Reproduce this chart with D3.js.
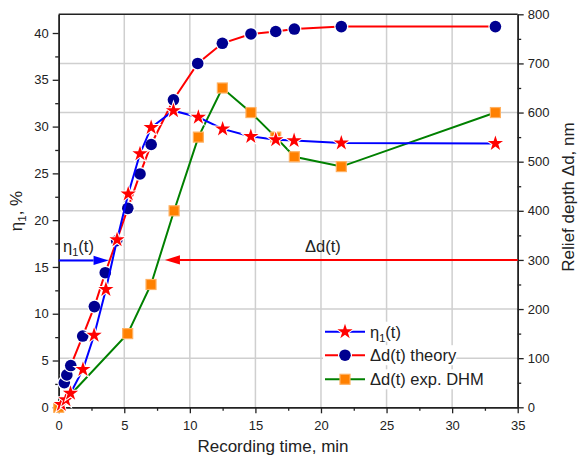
<!DOCTYPE html>
<html>
<head>
<meta charset="utf-8">
<script src="https://cdn.jsdelivr.net/npm/d3@7"></script>
<style>
body { margin: 0; background: #fff; }
text { font-family: "Liberation Sans", Arial, sans-serif; fill: #222; }
</style>
</head>
<body>
<svg id="chart" width="578" height="458"></svg>
<script>
// η1(t), left axis (%)
const etaT   = [0.2, 0.55, 0.9, 1.85, 2.7, 3.6, 4.45, 5.3, 6.2, 7.05, 8.75, 10.65, 12.5, 14.65, 16.55, 17.95, 21.55, 33.3];
const etaVal = [0.3, 0.8, 1.5, 4.05, 7.7, 12.6, 17.9, 22.8, 27.1, 29.9, 31.7, 31.0, 29.75, 28.95, 28.6, 28.5, 28.25, 28.2];

// Δd(t) theory, right axis (nm)
const theoryT   = [0.43, 0.62, 0.92, 1.83, 2.72, 3.55, 4.42, 5.27, 6.2, 7.05, 8.75, 10.6, 12.48, 14.66, 16.55, 17.97, 21.55, 33.3];
const theoryVal = [50, 66, 85, 145, 205, 274, 339, 405, 475, 535, 626, 700, 741, 760, 765, 770, 775, 775];

// Δd(t) exp. DHM, right axis (nm)
const dhmT   = [0, 5.26, 7.04, 8.8, 10.65, 12.48, 14.66, 16.55, 17.97, 21.55, 33.3];
const dhmVal = [0, 150, 250, 400, 550, 650, 600, 550, 510, 490, 600];

// ticks
const xTicks = [0, 5, 10, 15, 20, 25, 30, 35];
const xMinor = [2.5, 7.5, 12.5, 17.5, 22.5, 27.5, 32.5];
const leftTicks = [0, 5, 10, 15, 20, 25, 30, 35, 40];
const leftMinor = [2.5, 7.5, 12.5, 17.5, 22.5, 27.5, 32.5, 37.5];
const rightTicks = [0, 100, 200, 300, 400, 500, 600, 700, 800];
const rightMinor = [50, 150, 250, 350, 450, 550, 650, 750];

// annotation arrows: η1 level from t=0, Δd level from t=35
const etaArrow = { value: 15.7, from: 0, to: 3.8 };
const ddArrow = { value: 300, from: 35, to: 8.1 };

const svg = d3.select("#chart");
const pLeft = 58.7, pRight = 517.7, pTop = 14.3, pBottom = 407.3;

const x = d3.scaleLinear().domain([0, 35]).range([pLeft, pRight]);
const yL = d3.scaleLinear().domain([0, 42]).range([pBottom, pTop]);
const yR = d3.scaleLinear().domain([0, 800]).range([pBottom, pTop]);

// grid
svg.append("g").selectAll("line")
    .data(xTicks.filter(d => d > 0 && d < 35))
    .enter().append("line")
    .attr("x1", d => x(d)).attr("x2", d => x(d))
    .attr("y1", pTop).attr("y2", pBottom)
    .attr("stroke", "#cfcfcf").attr("stroke-width", 1.5);

svg.append("g").selectAll("line")
    .data(rightTicks.filter(d => d > 0 && d < 800))
    .enter().append("line")
    .attr("x1", pLeft).attr("x2", pRight)
    .attr("y1", d => yR(d)).attr("y2", d => yR(d))
    .attr("stroke", "#cfcfcf").attr("stroke-width", 1.5);

// axes
function styleAxis(g) {
    g.select(".domain").attr("stroke", "#222").attr("stroke-width", 1.5);
    g.selectAll(".tick line").attr("stroke", "#222").attr("stroke-width", 1.3);
    g.selectAll(".tick text").attr("font-size", "13px").attr("fill", "#222")
        .attr("font-family", "Liberation Sans, Arial, sans-serif");
}

svg.append("g")
    .attr("transform", `translate(0,${pBottom})`)
    .call(d3.axisBottom(x).tickValues(xMinor).tickSize(3.5).tickFormat("").tickSizeOuter(0))
    .call(styleAxis);
svg.append("g")
    .attr("transform", `translate(0,${pBottom})`)
    .call(d3.axisBottom(x).tickValues(xTicks).tickSize(6).tickPadding(7).tickSizeOuter(0))
    .call(styleAxis);

svg.append("g")
    .attr("transform", `translate(${pLeft},0)`)
    .call(d3.axisLeft(yL).tickValues(leftMinor).tickSize(3.5).tickFormat("").tickSizeOuter(0))
    .call(styleAxis);
svg.append("g")
    .attr("transform", `translate(${pLeft},0)`)
    .call(d3.axisLeft(yL).tickValues(leftTicks).tickSize(6).tickPadding(4).tickSizeOuter(0))
    .call(styleAxis);

svg.append("g")
    .attr("transform", `translate(${pRight},0)`)
    .call(d3.axisRight(yR).tickValues(rightMinor).tickSize(3.5).tickFormat("").tickSizeOuter(0))
    .call(styleAxis);
svg.append("g")
    .attr("transform", `translate(${pRight},0)`)
    .call(d3.axisRight(yR).tickValues(rightTicks).tickSize(6).tickPadding(4).tickSizeOuter(0))
    .call(styleAxis);

svg.append("line")
    .attr("x1", pLeft).attr("x2", pRight).attr("y1", pTop).attr("y2", pTop)
    .attr("stroke", "#222").attr("stroke-width", 1.5);

// series data
const etaData = etaT.map((t, i) => ({ t, v: etaVal[i] }));
const theoryData = theoryT.map((t, i) => ({ t, v: theoryVal[i] }));
const dhmData = dhmT.map((t, i) => ({ t, v: dhmVal[i] }));

const lineR = d3.line().x(d => x(d.t)).y(d => yR(d.v));
const lineL = d3.line().x(d => x(d.t)).y(d => yL(d.v));

// theory
svg.append("path").datum(theoryData)
    .attr("d", lineR).attr("fill", "none")
    .attr("stroke", "#ff0000").attr("stroke-width", 2);
svg.append("g").selectAll("circle")
    .data(theoryData).enter().append("circle")
    .attr("cx", d => x(d.t)).attr("cy", d => yR(d.v)).attr("r", 5.8)
    .attr("fill", "#000090").attr("stroke", "#fff").attr("stroke-width", 2.5)
    .style("paint-order", "stroke");

// DHM
svg.append("path").datum(dhmData)
    .attr("d", lineR).attr("fill", "none")
    .attr("stroke", "#008000").attr("stroke-width", 2);
svg.append("g").selectAll("rect")
    .data(dhmData).enter().append("rect")
    .attr("x", d => x(d.t) - 5).attr("y", d => yR(d.v) - 5)
    .attr("width", 10).attr("height", 10)
    .attr("fill", "#ff8000").attr("stroke", "#ffb060").attr("stroke-width", 1.2);

// η1
const star = d3.symbol().type(d3.symbolStar).size(72);
svg.append("path").datum(etaData)
    .attr("d", lineL).attr("fill", "none")
    .attr("stroke", "#0000ff").attr("stroke-width", 2);
svg.append("g").selectAll("path")
    .data(etaData).enter().append("path")
    .attr("d", star)
    .attr("transform", d => `translate(${x(d.t)},${yL(d.v)})`)
    .attr("fill", "#ff0000").attr("stroke", "#fff").attr("stroke-width", 2)
    .style("paint-order", "stroke");

// arrows
function arrow(x1, x2, y, color) {
    const dir = x2 > x1 ? 1 : -1;
    const len = 15, hw = 4.6;
    svg.append("line")
        .attr("x1", x1).attr("x2", x2 - dir * len).attr("y1", y).attr("y2", y)
        .attr("stroke", color).attr("stroke-width", 2);
    svg.append("path")
        .attr("d", `M${x2},${y}L${x2 - dir * len},${y - hw}L${x2 - dir * len},${y + hw}Z`)
        .attr("fill", color);
}
arrow(x(etaArrow.from), x(etaArrow.to), yL(etaArrow.value), "#0000ff");
arrow(x(ddArrow.from), x(ddArrow.to), yR(ddArrow.value), "#ff0000");

const etaLabel = svg.append("text").attr("x", 63).attr("y", 252).attr("font-size", "16.5px");
etaLabel.append("tspan").text("η");
etaLabel.append("tspan").attr("font-size", "11px").attr("dy", 4).text("1");
etaLabel.append("tspan").attr("dy", -4).text("(t)");

svg.append("text").attr("x", 305).attr("y", 252).attr("font-size", "16.5px").text("Δd(t)");

// legend
const legendItems = [
    { label: ["η", "1", "(t)"], line: "#0000ff", marker: "star" },
    { label: ["Δd(t) theory"], line: "#ff0000", marker: "circle" },
    { label: ["Δd(t) exp. DHM"], line: "#008000", marker: "square" }
];
const legendY = [331.7, 355.2, 379.3];

legendItems.forEach((item, i) => {
    const g = svg.append("g").attr("transform", `translate(325,${legendY[i]})`);
    const bg = g.append("rect").attr("x", -2).attr("y", -10).attr("height", 20).attr("fill", "#fff");
    g.append("line").attr("x1", 0).attr("x2", 40).attr("y1", 0).attr("y2", 0)
        .attr("stroke", item.line).attr("stroke-width", 2);
    if (item.marker === "star") {
        g.append("path").attr("d", star).attr("transform", "translate(20,0)")
            .attr("fill", "#ff0000").attr("stroke", "#fff").attr("stroke-width", 2).style("paint-order", "stroke");
    } else if (item.marker === "circle") {
        g.append("circle").attr("cx", 20).attr("cy", 0).attr("r", 5.8)
            .attr("fill", "#000090").attr("stroke", "#fff").attr("stroke-width", 2.5).style("paint-order", "stroke");
    } else {
        g.append("rect").attr("x", 15).attr("y", -5).attr("width", 10).attr("height", 10)
            .attr("fill", "#ff8000").attr("stroke", "#ffb060").attr("stroke-width", 1.2);
    }
    const t = g.append("text").attr("x", 45).attr("y", 5.8).attr("font-size", "16.5px");
    if (item.label.length === 3) {
        t.append("tspan").text(item.label[0]);
        t.append("tspan").attr("font-size", "11px").attr("dy", 4).text(item.label[1]);
        t.append("tspan").attr("dy", -4).text(item.label[2]);
    } else {
        t.text(item.label[0]);
    }
    bg.attr("width", 47 + t.node().getComputedTextLength());
});

// axis titles
svg.append("text")
    .attr("x", 273).attr("y", 451.5)
    .attr("text-anchor", "middle").attr("font-size", "17px")
    .text("Recording time, min");

svg.append("text")
    .attr("transform", "translate(574,197) rotate(-90)")
    .attr("text-anchor", "middle").attr("font-size", "17px")
    .text("Relief depth Δd, nm");

const yTitle = svg.append("text")
    .attr("transform", "translate(22,211) rotate(-90)")
    .attr("text-anchor", "middle").attr("font-size", "17px");
yTitle.append("tspan").text("η");
yTitle.append("tspan").attr("font-size", "11.5px").attr("dy", 4).text("1");
yTitle.append("tspan").attr("dy", -4).text(", %");
</script>
</body>
</html>
